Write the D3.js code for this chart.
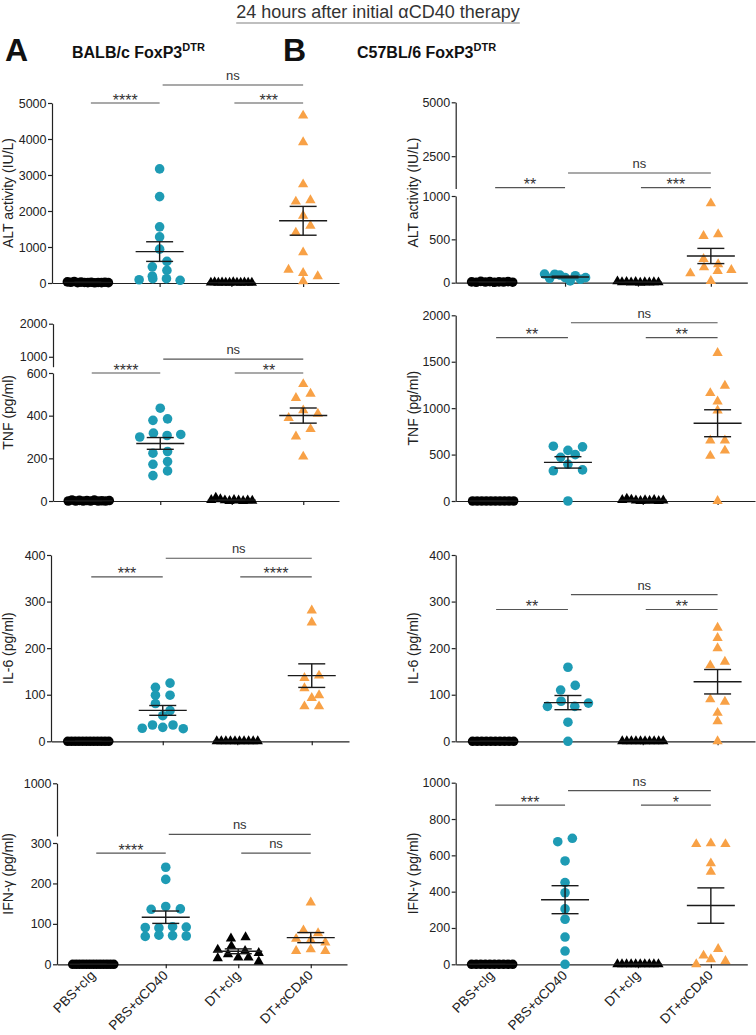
<!DOCTYPE html>
<html>
<head>
<meta charset="utf-8">
<script src="https://cdn.jsdelivr.net/npm/d3@7"></script>
<style>
    body { margin: 0; background: #fff; }
    svg { font-family: "Liberation Sans", Arial, sans-serif; }
</style>
</head>
<body>
<svg id="fig" width="756" height="1035"></svg>
<script>
// Group names (x axis)
const groups = ["PBS+cIg", "PBS+\u03b1CD40", "DT+cIg", "DT+\u03b1CD40"];

// BALB/c FoxP3DTR, one array per group: PBS+cIg, PBS+aCD40, DT+cIg, DT+aCD40
const altBalb = [
    [30, 20, 40, 10, 25, 15, 10, 20, 5, 15, 10, 20, 10],
    [3170, 2400, 1560, 1280, 940, 450, 600, 190, 350, 90, 120, 120, 75],
    [10, 20, 5, 15, 10, 5, 20, 10, 5, 15, 10, 5],
    [4650, 3910, 2740, 2260, 2300, 1870, 1400, 1590, 850, 370, 280, 190, 50]
];
const tnfBalb = [
    [0, 5, 0, 3, 0, 2, 0, 4, 0, 1, 0, 2],
    [435, 378, 385, 300, 318, 307, 312, 224, 232, 172, 185, 119, 141],
    [5, 15, 8, 3, 0, 5, 2, 0, 3, 1],
    [548, 483, 503, 389, 425, 409, 302, 337, 208]
];
const il6Balb = [
    [0, 0, 0, 0, 0, 0, 0, 0, 0, 0, 0, 0],
    [116, 125, 99, 99, 81, 66, 55, 28, 35, 30, 35, 27],
    [0, 0, 0, 0, 0, 0, 0, 0, 0, 0],
    [281, 255, 136, 141, 114, 99, 93, 75, 75]
];
const ifnBalb = [
    [0, 0, 0, 0, 0, 0, 0, 0, 0, 0, 0, 0, 0],
    [240, 210, 136, 143, 137, 91, 90, 93, 92, 69, 72, 71, 70],
    [64, 67, 36, 45, 33, 15, 25, 17, 17, 7, 28],
    [153, 84, 77, 63, 60, 54, 33, 37, 33]
];

// C57BL/6 FoxP3DTR
const altC57 = [
    [10, 5, 15, 8, 12, 5, 10, 8, 12, 6],
    [100, 50, 98, 88, 60, 20, 80, 40, 58],
    [15, 5, 10, 3, 8, 0, 5, 2, 6, 4],
    [915, 538, 558, 273, 212, 108, 177, 135, 146, 19]
];
const tnfC57 = [
    [0, 0, 0, 0, 0, 0, 0, 0, 0, 0],
    [590, 545, 583, 470, 500, 325, 395, 335, 0],
    [10, 25, 15, 5, 0, 8, 3, 10, 0, 5],
    [1594, 1162, 1241, 1072, 975, 651, 651, 486, 543, 0]
];
const il6C57 = [
    [0, 0, 0, 0, 0, 0, 0, 0, 0, 0],
    [159, 110, 120, 75, 86, 75, 82, 41, 0],
    [0, 0, 0, 0, 0, 0, 0, 0, 0, 0],
    [244, 222, 200, 163, 171, 90, 85, 61, 43, 0]
];
const ifnC57 = [
    [0, 0, 0, 0, 0, 0, 0, 0, 0, 0],
    [675, 694, 569, 450, 394, 305, 248, 150, 73, 0],
    [0, 0, 0, 0, 0, 0, 0, 0, 0, 0],
    [662, 666, 662, 556, 510, 48, 84, 0, 28, 18]
];

// Significance brackets: [from group, to group, label, height in data units]
const sigAltBalb = [[0, 1, "****", 5000], [1, 3, "ns", 5500], [2, 3, "***", 5000]];
const sigTnfBalb = [[0, 1, "****", 600], [1, 3, "ns", 930], [2, 3, "**", 600]];
const sigIl6Balb = [[0, 1, "***", 353], [1, 3, "ns", 393], [2, 3, "****", 353]];
const sigIfnBalb = [[0, 1, "****", 275], [1, 3, "ns", 340], [2, 3, "ns", 275]];
const sigAltC57 = [[0, 1, "**", 1040], [1, 3, "ns", 1720], [2, 3, "***", 1040]];
const sigTnfC57 = [[0, 1, "**", 1760], [1, 3, "ns", 1920], [2, 3, "**", 1760]];
const sigIl6C57 = [[0, 1, "**", 283], [1, 3, "ns", 315], [2, 3, "**", 283]];
const sigIfnC57 = [[0, 1, "***", 877], [1, 3, "ns", 956], [2, 3, "*", 877]];

const TEAL = "#1e9bb4", ORANGE = "#f8a146";
const groupStyle = [
    { shape: "circle", fill: "#000" },
    { shape: "circle", fill: TEAL },
    { shape: "triangle", fill: "#000" },
    { shape: "triangle", fill: ORANGE }
];

// Swarm settings (pixels)
const DOT_R = 4.8, STEP = 14.6, HALF = 20.5, ROW_GAP = 8;
const LABEL_X = [13, 418];

const panels = [
    { data: altBalb, sig: sigAltBalb, label: "ALT activity (IU/L)", col: 0, x0: 52, x1: 339,
      segs: [{ domain: [0, 5000], range: [283, 103], ticks: [0, 1000, 2000, 3000, 4000, 5000] }] },
    { data: tnfBalb, sig: sigTnfBalb, label: "TNF (pg/ml)", col: 0, x0: 53, x1: 339,
      segs: [{ domain: [0, 600], range: [501, 373], ticks: [0, 200, 400, 600] },
             { domain: [700, 2000], range: [366.7, 323.7], ticks: [1000, 2000] }] },
    { data: il6Balb, sig: sigIl6Balb, label: "IL-6 (pg/ml)", col: 0, x0: 51, x1: 349,
      segs: [{ domain: [0, 400], range: [741.3, 555], ticks: [0, 100, 200, 300, 400] }] },
    { data: ifnBalb, sig: sigIfnBalb, label: "IFN-\u03b3 (pg/ml)", col: 0, x0: 57, x1: 347, xLabels: true,
      segs: [{ domain: [0, 300], range: [964.3, 843], ticks: [0, 100, 200, 300] },
             { domain: [320, 1000], range: [836, 783.3], ticks: [1000] }] },
    { data: altC57, sig: sigAltC57, label: "ALT activity (IU/L)", col: 1, x0: 455.7, x1: 747.3,
      segs: [{ domain: [0, 1000], range: [282.7, 196], ticks: [0, 500, 1000] },
             { domain: [1000, 5000], range: [188.5, 102.3], ticks: [2500, 5000] }] },
    { data: tnfC57, sig: sigTnfC57, label: "TNF (pg/ml)", col: 1, x0: 455.7, x1: 755,
      segs: [{ domain: [0, 2000], range: [501, 315.3], ticks: [0, 500, 1000, 1500, 2000] }] },
    { data: il6C57, sig: sigIl6C57, label: "IL-6 (pg/ml)", col: 1, x0: 455.7, x1: 755,
      segs: [{ domain: [0, 400], range: [741.3, 555], ticks: [0, 100, 200, 300, 400] }] },
    { data: ifnC57, sig: sigIfnC57, label: "IFN-\u03b3 (pg/ml)", col: 1, x0: 455.7, x1: 747.3, xLabels: true,
      segs: [{ domain: [0, 1000], range: [964.3, 782.7], ticks: [0, 200, 400, 600, 800, 1000] }] }
];

const svg = d3.select("#fig");

/*
    Piecewise y scale for (possibly) broken axes: each segment is its own
    linear scale, a value goes to the highest segment it reaches
*/
function makeY(segs) {
    const scales = segs.map(s => d3.scaleLinear().domain(s.domain).range(s.range));
    const f = v => {
        for (let k = scales.length - 1; k > 0; k--)
            if (v >= segs[k].domain[0]) return scales[k](v);
        return scales[0](v);
    };
    f.scales = scales;
    return f;
}

/*
    Scatter-dot layout: values close in y share a row, rows are spread
    symmetrically around the group centre and squeezed if too wide
*/
function swarm(values, cx, y) {
    const order = d3.range(values.length).sort((a, b) => values[b] - values[a]);
    const rows = [];
    let cur = null;
    order.forEach(i => {
        const py = y(values[i]);
        if (!cur || Math.abs(py - cur.y0) > ROW_GAP) {
            cur = { y0: py, items: [] };
            rows.push(cur);
        }
        cur.items.push(i);
    });
    const out = [];
    rows.forEach(r => {
        r.items.sort((a, b) => a - b);
        const k = r.items.length;
        const sp = k > 1 ? Math.min(STEP, 2 * HALF / (k - 1)) : 0;
        r.items.forEach((i, n) => out.push({ x: cx + (n - (k - 1) / 2) * sp, y: y(values[i]) }));
    });
    return out;
}

function drawPanel(p) {
    const g = svg.append("g");
    const x = d3.scalePoint().domain(d3.range(4)).range([p.x0, p.x1]).padding(0.5);
    const y = makeY(p.segs);
    const yBase = y(0);

    // y axis segments
    p.segs.forEach((s, k) => {
        const ax = g.append("g")
            .attr("transform", `translate(${p.x0},0)`)
            .call(d3.axisLeft(y.scales[k]).tickValues(s.ticks).tickFormat(d3.format("d"))
                .tickSize(4).tickSizeOuter(0).tickPadding(1.5));
        ax.attr("font-size", 12.5).attr("font-family", null).attr("color", "#222");
        ax.selectAll("path,line").attr("stroke-width", 1.2);
    });

    // x axis
    const xa = g.append("g")
        .attr("transform", `translate(0,${yBase})`)
        .call(d3.axisBottom(x).tickSize(4).tickSizeOuter(0).tickFormat(""));
    xa.attr("color", "#222");
    xa.selectAll("path,line").attr("stroke-width", 1.2);

    if (p.xLabels) {
        g.selectAll(".xl").data(groups).enter().append("text")
            .attr("transform", (d, i) => `translate(${x(i) + 3},${yBase + 12}) rotate(-45)`)
            .attr("text-anchor", "end")
            .attr("font-size", 13.5)
            .attr("fill", "#222")
            .text(d => d);
    }

    // y label
    const yTop = d3.min(p.segs, s => s.range[1]);
    g.append("text")
        .attr("transform", `translate(${LABEL_X[p.col]},${(yTop + yBase) / 2}) rotate(-90)`)
        .attr("text-anchor", "middle")
        .attr("font-size", 14)
        .attr("fill", "#222")
        .text(p.label);

    // dots
    p.data.forEach((vals, gi) => {
        const st = groupStyle[gi];
        const pts = swarm(vals, x(gi), y);
        if (st.shape === "circle") {
            g.selectAll(null).data(pts).enter().append("circle")
                .attr("cx", d => d.x).attr("cy", d => d.y).attr("r", DOT_R)
                .attr("fill", st.fill);
        } else {
            const sym = d3.symbol(d3.symbolTriangle, 46);
            g.selectAll(null).data(pts).enter().append("path")
                .attr("d", sym)
                .attr("transform", d => `translate(${d.x},${d.y})`)
                .attr("fill", st.fill);
        }
    });

    // mean +/- SEM
    p.data.forEach((vals, gi) => {
        const m = d3.mean(vals);
        const se = (d3.deviation(vals) || 0) / Math.sqrt(vals.length);
        const cx = x(gi);
        const eg = g.append("g").attr("stroke", "#1a1a1a").attr("stroke-width", 1.4).attr("fill", "none");
        eg.append("line").attr("x1", cx - 24).attr("x2", cx + 24).attr("y1", y(m)).attr("y2", y(m));
        eg.append("line").attr("x1", cx).attr("x2", cx).attr("y1", y(m - se)).attr("y2", y(m + se));
        [m - se, m + se].forEach(v => {
            eg.append("line").attr("x1", cx - 13.5).attr("x2", cx + 13.5).attr("y1", y(v)).attr("y2", y(v));
        });
    });

    // significance brackets
    p.sig.forEach(([a, b, lab, v]) => {
        const yy = y(v);
        const xa1 = x(a) + 3, xb = x(b);
        g.append("line").attr("x1", xa1).attr("x2", xb).attr("y1", yy).attr("y2", yy)
            .attr("stroke", "#555").attr("stroke-width", 1.2);
        const isNs = lab === "ns";
        g.append("text")
            .attr("x", (xa1 + xb) / 2)
            .attr("y", isNs ? yy - 5 : yy + 2.5)
            .attr("text-anchor", "middle")
            .attr("font-size", isNs ? 13 : 16)
            .attr("fill", "#333")
            .text(lab);
    });
}

panels.forEach(drawPanel);

// Header
const title = svg.append("text")
    .attr("x", 378).attr("y", 18)
    .attr("text-anchor", "middle")
    .attr("font-size", 18)
    .attr("fill", "#333")
    .text("24 hours after initial \u03b1CD40 therapy");
const tw = title.node().getComputedTextLength();
svg.append("line")
    .attr("x1", 378 - tw / 2).attr("x2", 378 + tw / 2)
    .attr("y1", 23).attr("y2", 23)
    .attr("stroke", "#aaa").attr("stroke-width", 1.5);

[["A", 5, "BALB/c FoxP3", 72], ["B", 283, "C57BL/6 FoxP3", 357]].forEach(([letter, lx, strain, sx]) => {
    svg.append("text").attr("x", lx).attr("y", 61)
        .attr("font-size", 32).attr("font-weight", "bold").attr("fill", "#111")
        .text(letter);
    const t = svg.append("text").attr("x", sx).attr("y", 58)
        .attr("font-size", 16).attr("font-weight", "bold").attr("fill", "#111");
    t.append("tspan").text(strain);
    t.append("tspan").attr("dy", -7).attr("font-size", 11).text("DTR");
});
</script>
</body>
</html>
